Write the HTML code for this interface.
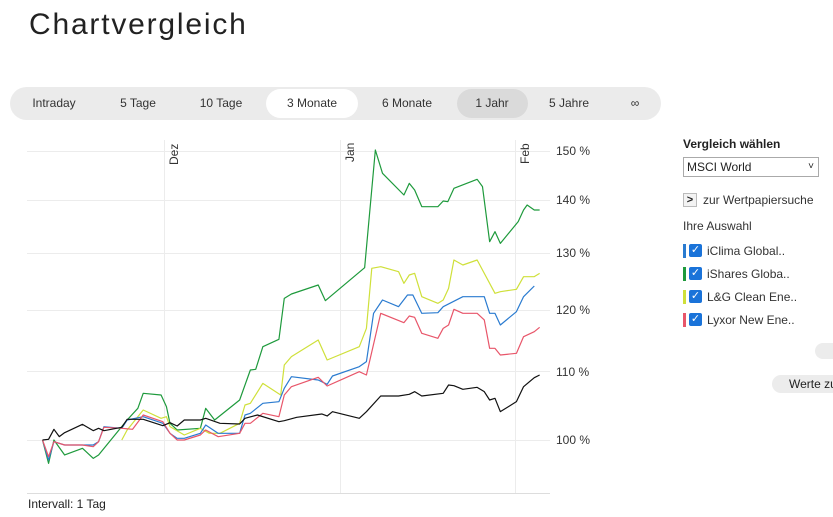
<!DOCTYPE html>
<html><head><meta charset="utf-8"><style>
body{margin:0;width:833px;height:517px;background:#fff;font-family:"Liberation Sans",sans-serif;position:relative;overflow:hidden;color:#222}
.a{position:absolute;white-space:nowrap}
.tab{position:absolute;top:87px;height:33px;line-height:33px;font-size:12px;color:#333;text-align:center}
.leg{position:absolute;left:683px;font-size:12px;color:#333;height:14px;line-height:14px;width:150px;white-space:nowrap}
.leg .bar{position:absolute;left:0;top:0;width:3px;height:14px}
.leg .cb{position:absolute;left:6px;top:0;width:13px;height:13px;background:#1a73d9;border-radius:2px;color:#fff;font-size:11px;line-height:13px;text-align:center}
.leg span.t{position:absolute;left:24px;top:0;white-space:nowrap}
</style></head><body>
<div class="a" style="left:29px;top:8px;font-size:30px;letter-spacing:1.8px;color:#222">Chartvergleich</div>
<div class="a" style="left:10px;top:87px;width:651px;height:33px;background:#ebebeb;border-radius:17px"></div>
<div class="a" style="left:266px;top:89px;width:92px;height:29px;background:#fff;border-radius:15px"></div>
<div class="a" style="left:457px;top:89px;width:71px;height:29px;background:#dadada;border-radius:15px"></div>
<div class="tab" style="left:14px;width:80px">Intraday</div>
<div class="tab" style="left:98px;width:80px">5 Tage</div>
<div class="tab" style="left:181px;width:80px">10 Tage</div>
<div class="tab" style="left:272px;width:80px">3 Monate</div>
<div class="tab" style="left:367px;width:80px">6 Monate</div>
<div class="tab" style="left:452px;width:80px">1 Jahr</div>
<div class="tab" style="left:529px;width:80px">5 Jahre</div>
<div class="tab" style="left:595px;width:80px">∞</div>

<svg class="a" style="left:0;top:0" width="833" height="517">
<g stroke="#ececec" stroke-width="1">
<line x1="27" y1="151.5" x2="550" y2="151.5"/><line x1="27" y1="200.5" x2="550" y2="200.5"/>
<line x1="27" y1="253.5" x2="550" y2="253.5"/><line x1="27" y1="310.5" x2="550" y2="310.5"/>
<line x1="27" y1="371.5" x2="550" y2="371.5"/><line x1="27" y1="440.5" x2="550" y2="440.5"/>
<line x1="164.5" y1="140" x2="164.5" y2="493"/><line x1="340.5" y1="140" x2="340.5" y2="493"/><line x1="515.5" y1="140" x2="515.5" y2="493"/>
<line x1="27" y1="493.5" x2="550" y2="493.5" stroke="#ddd"/>
</g>
<g font-size="12" fill="#333" font-family="Liberation Sans, sans-serif">
<text x="556" y="155">150 %</text><text x="556" y="204">140 %</text><text x="556" y="257">130 %</text>
<text x="556" y="314">120 %</text><text x="556" y="376">110 %</text><text x="556" y="444">100 %</text>
<text transform="translate(178,165) rotate(-90)">Dez</text>
<text transform="translate(354,162) rotate(-90)">Jan</text>
<text transform="translate(529,164) rotate(-90)">Feb</text>
</g>
<g transform="translate(20,140) scale(0.35714,0.33333)" fill="none" stroke-width="1.2" stroke-linejoin="round">
<polyline vector-effect="non-scaling-stroke" stroke="#1e9a3c" points="63,900 80,970 95,900 125,945 175,925 205,955 220,945 300,840 330,805 345,760 395,765 410,800 420,850 440,870 505,865 520,805 545,840 615,780 635,720 645,690 660,688 680,620 725,598 740,475 760,462 835,435 855,482 965,383 995,30 1015,100 1075,165 1090,130 1105,150 1125,200 1170,200 1185,183 1198,185 1215,145 1280,118 1295,140 1315,305 1330,275 1345,310 1395,245 1410,210 1420,195 1440,210 1455,210"/>
<polyline vector-effect="non-scaling-stroke" stroke="#cfe03a" points="285,900 300,870 345,810 395,835 410,830 420,860 460,885 505,865 530,880 560,880 615,850 630,795 645,790 680,730 730,765 740,675 760,650 835,600 860,660 950,620 970,565 985,385 1010,380 1060,395 1075,430 1090,405 1105,400 1125,470 1170,490 1185,480 1200,445 1215,360 1240,375 1280,360 1330,460 1345,455 1390,448 1410,410 1440,410 1455,400"/>
<polyline vector-effect="non-scaling-stroke" stroke="#2a7bd0" points="63,900 80,960 95,905 125,915 175,915 205,915 220,905 235,860 285,865 300,840 345,830 400,850 420,880 440,895 460,895 505,880 520,855 555,880 615,880 630,825 645,820 680,790 725,785 740,745 760,710 835,720 860,733 875,708 950,680 970,665 990,520 1015,480 1060,500 1085,465 1100,465 1125,520 1170,518 1185,500 1240,470 1300,470 1315,520 1330,520 1345,555 1390,515 1410,470 1440,438"/>
<polyline vector-effect="non-scaling-stroke" stroke="#e8566a" points="63,900 80,950 95,905 125,915 175,915 205,920 220,905 235,862 285,865 315,868 345,825 400,845 420,880 440,900 460,900 505,885 520,870 555,890 615,880 630,850 645,850 680,820 725,830 740,765 760,740 835,712 860,738 950,695 970,705 1010,520 1075,548 1090,528 1105,532 1125,580 1170,595 1185,565 1200,555 1215,508 1240,520 1280,520 1300,540 1315,625 1330,625 1345,645 1390,640 1410,590 1440,575 1455,562"/>
<polyline vector-effect="non-scaling-stroke" stroke="#111" points="63,900 80,898 95,868 110,890 125,878 175,853 205,872 220,865 235,872 285,862 300,838 345,838 400,857 420,848 440,858 460,840 505,840 520,835 560,850 615,852 630,835 665,825 725,845 740,842 775,832 845,822 860,828 875,815 950,835 970,815 1010,768 1060,768 1090,763 1105,755 1125,768 1185,760 1200,735 1215,737 1240,748 1280,742 1300,755 1315,780 1330,775 1345,815 1390,785 1410,740 1440,713 1455,705"/>
</g>
</svg>
<div class="a" style="left:28px;top:497px;font-size:12px;color:#222">Intervall: 1 Tag</div>

<div class="a" style="left:683px;top:137px;font-size:12px;font-weight:bold;color:#222">Vergleich wählen</div>
<div class="a" style="left:683px;top:157px;width:134px;height:18px;border:1px solid #aaa;font-size:12px;line-height:18px;color:#222;box-sizing:content-box"><span style="padding-left:3px">MSCI World</span><span style="position:absolute;right:4px;top:0;font-size:10px">&#x2C5;</span></div>
<div class="a" style="left:683px;top:193px;width:12px;height:12px;border:1px solid #bbb;background:#f3f3f3;font-size:11px;font-weight:bold;line-height:12px;text-align:center">&gt;</div>
<div class="a" style="left:703px;top:193px;font-size:12px;color:#333">zur Wertpapiersuche</div>
<div class="a" style="left:683px;top:219px;font-size:12px;color:#333">Ihre Auswahl</div>
<div class="leg" style="top:244px"><div class="bar" style="background:#2a7bd0"></div><div class="cb">✓</div><span class="t">iClima Global..</span></div>
<div class="leg" style="top:267px"><div class="bar" style="background:#1e9a3c"></div><div class="cb">✓</div><span class="t">iShares Globa..</span></div>
<div class="leg" style="top:290px"><div class="bar" style="background:#cfe03a"></div><div class="cb">✓</div><span class="t">L&amp;G Clean Ene..</span></div>
<div class="leg" style="top:313px"><div class="bar" style="background:#e8566a"></div><div class="cb">✓</div><span class="t">Lyxor New Ene..</span></div>
<div class="a" style="left:815px;top:343px;width:40px;height:16px;background:#ececec;border-radius:8px"></div>
<div class="a" style="left:772px;top:375px;width:80px;height:18px;background:#ececec;border-radius:9px;font-size:12px;line-height:18px;padding-left:17px;color:#222">Werte zu</div>
</body></html>
